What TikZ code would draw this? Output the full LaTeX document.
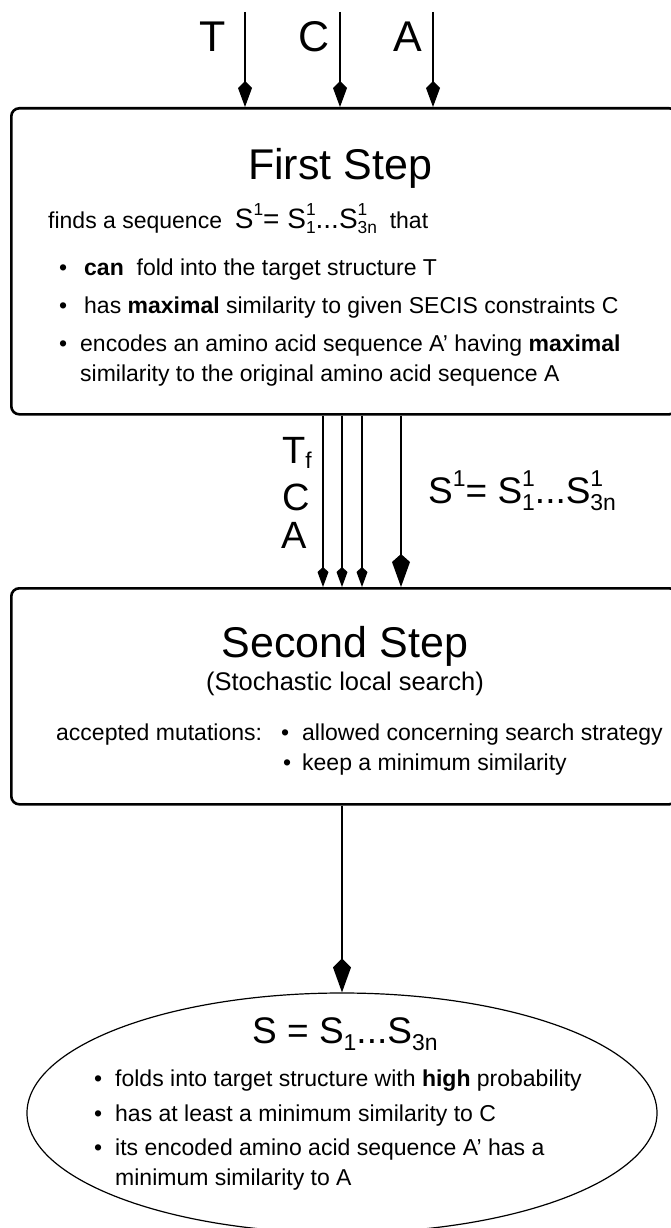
\documentclass[tikz,border=0pt]{standalone}
\usepackage{fontspec}
\usepackage{graphicx}
\setmainfont{Liberation Sans}
\usetikzlibrary{arrows.meta,shapes.geometric}
\newcommand{\ssup}[1]{\raisebox{0.45em}{\scalebox{0.62}{#1}}}
\newcommand{\ssub}[1]{\raisebox{-0.2em}{\scalebox{0.62}{#1}}}
\newcommand{\supsub}[2]{\rlap{\ssup{#1}}\ssub{#2}}
\newcommand{\fsz}[1]{\fontsize{#1}{#1}\selectfont}
\newcommand{\bul}[1]{\makebox[#1][l]{\textbullet}}
\tikzset{
  stepbox/.style={draw, line width=2.6pt, rounded corners=8pt, inner sep=0pt},
  txt/.style={inner sep=0pt, anchor=base west, font=\fsz{23}},
  ctxt/.style={inner sep=0pt, anchor=base},
  toparrow/.style={line width=1.2pt, -{Kite[length=26pt,width=14pt,inset=7pt]}},
  smallarrow/.style={line width=1.2pt, -{Kite[length=20pt,width=11pt,inset=5pt]}},
  bigarrow/.style={line width=2.4pt, -{Kite[length=33pt,width=18pt,inset=8pt]}},
  botarrow/.style={line width=2.6pt, -{Kite[length=34pt,width=18pt,inset=9pt]}},
}
\begin{document}
\begin{tikzpicture}[x=1pt,y=-1pt]
\useasboundingbox (0,0) rectangle (670,1228);
% boxes
\node[stepbox, anchor=north west, minimum width=666pt, minimum height=306pt] (first) at (10,107) {};
\node[stepbox, anchor=north west, minimum width=666pt, minimum height=216pt] (second) at (10,587) {};
\node[draw, ellipse, line width=1.2pt, minimum width=630pt, minimum height=240pt, inner sep=0pt] (result) at (342,1113) {};
% top inputs
\coordinate (inT) at (245,12);
\coordinate (inC) at (340,12);
\coordinate (inA) at (433,12);
\node[ctxt, font=\fsz{43}] (lT) at (213,52) {T};
\node[ctxt, font=\fsz{43}] (lC) at (314,52) {C};
\node[ctxt, font=\fsz{43}] (lA) at (408,52) {A};
\draw[toparrow] (inT) -- (inT |- first.north);
\draw[toparrow] (inC) -- (inC |- first.north);
\draw[toparrow] (inA) -- (inA |- first.north);
% first step text
\node[ctxt, font=\fsz{43}] (t1) at (340,179) {First Step};
\node[txt] (f0) at (48,228) {finds a sequence \ {\fsz{28}S\ssup{1}= S\supsub{1}{1}...S\supsub{1}{3n}} \ that};
\node[txt] (f1) at (59,275) {\bul{25pt}\textbf{can}\ \ fold into the target structure T};
\node[txt] (f2) at (59,313) {\bul{25pt}has \textbf{maximal} similarity to given SECIS constraints C};
\node[txt] (f3) at (59,351) {\bul{21pt}encodes an amino acid sequence A’ having \textbf{maximal}};
\node[txt] (f4) at (80,381) {similarity to the original amino acid sequence A};
% middle connectors
\coordinate (m1) at (323,0);
\coordinate (m2) at (342,0);
\coordinate (m3) at (362,0);
\coordinate (m4) at (401,0);
\draw[smallarrow] (m1 |- first.south) -- (m1 |- second.north);
\draw[smallarrow] (m2 |- first.south) -- (m2 |- second.north);
\draw[smallarrow] (m3 |- first.south) -- (m3 |- second.north);
\draw[bigarrow] (m4 |- first.south) -- (m4 |- second.north);
\node[txt, font=\fsz{38}] (mT) at (282,463) {T\raisebox{-0.15em}{\scalebox{0.6}{f}}};
\node[txt, font=\fsz{38}] (mC) at (282,510) {C};
\node[txt, font=\fsz{38}] (mA) at (281,548) {A};
\node[txt, font=\fsz{37}] (mS) at (428,503) {S\ssup{1}= S\supsub{1}{1}...S\supsub{1}{3n}};
% second step text
\node[ctxt, font=\fsz{43}] (t2) at (345,657) {Second Step};
\node[ctxt, font=\fsz{25.5}] (t2b) at (345,690) {(Stochastic local search)};
\node[txt] (s1) at (56,740) {accepted mutations:};
\node[txt] (s2) at (281,740) {\bul{21pt}allowed concerning search strategy};
\node[txt] (s3) at (283,770) {\bul{19pt}keep a minimum similarity};
% bottom connector
\draw[botarrow] (second.south -| result.north) -- (result.north);
% result text
\node[txt, font=\fsz{37}] (r0) at (252,1043) {S = S\ssub{1}...S\ssub{3n}};
\node[txt] (r1) at (94,1086) {\bul{21pt}folds into target structure with \textbf{high} probability};
\node[txt] (r2) at (94,1121) {\bul{21pt}has at least a minimum similarity to C};
\node[txt] (r3) at (94,1155) {\bul{21pt}its encoded amino acid sequence A’ has a};
\node[txt] (r4) at (115,1185) {minimum similarity to A};
\end{tikzpicture}
\end{document}
